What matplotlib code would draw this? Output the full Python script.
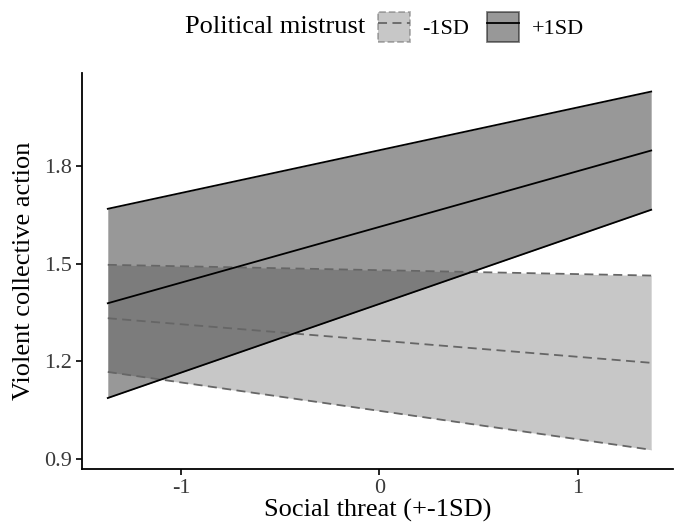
import numpy as np
import matplotlib
matplotlib.use("Agg")
import matplotlib.pyplot as plt
from matplotlib.patches import Patch
from matplotlib.lines import Line2D

plt.rcParams['font.family'] = ['Liberation Serif', 'DejaVu Serif']
plt.rcParams['axes.unicode_minus'] = False

# data
x = [-1.37, 1.37]
groups = ["-1SD", "+1SD"]
low_mean = [1.332, 1.195]
low_upper = [1.496, 1.463]
low_lower = [1.167, 0.928]
high_mean = [1.378, 1.847]
high_upper = [1.668, 2.028]
high_lower = [1.087, 1.665]

x_ticks = [-1, 0, 1]
x_ticklabels = ["-1", "0", "1"]
y_ticks = [0.9, 1.2, 1.5, 1.8]
y_ticklabels = ["0.9", "1.2", "1.5", "1.8"]

fill_low = "#919191"
fill_high = "#333333"
line_low = "#666666"
line_high = "black"
dash = (0, (5, 3))

fig = plt.figure(figsize=(6.75, 5.26), dpi=100)
ax = fig.add_axes([82 / 675, 57 / 526, (673 - 82) / 675, (469 - 73) / 526])

# ribbons
ax.fill_between(x, low_lower, low_upper, color=fill_low, alpha=0.5, lw=0)
ax.fill_between(x, high_lower, high_upper, color=fill_high, alpha=0.5, lw=0)

# lines
for ys in (low_upper, low_mean, low_lower):
    ax.plot(x, ys, color=line_low, lw=1.3, linestyle=dash)
for ys in (high_upper, high_mean, high_lower):
    ax.plot(x, ys, color=line_high, lw=1.3)

ax.set_xlim(-1.5, 1.48)
ax.set_ylim(0.869, 2.085)
ax.set_xticks(x_ticks)
ax.set_xticklabels(x_ticklabels)
ax.set_yticks(y_ticks)
ax.set_yticklabels(y_ticklabels)
ax.tick_params(labelsize=16, labelcolor="#3a3a3a", length=4, width=1.2,
               color="black", direction="out", pad=3)
for s in ["top", "right"]:
    ax.spines[s].set_visible(False)
for s in ["left", "bottom"]:
    ax.spines[s].set_linewidth(1.3)
ax.set_xlabel("Social threat (+-1SD)", fontsize=19, labelpad=1)
ax.set_ylabel("Violent collective action", fontsize=19, labelpad=7)

# legend on top, title to the left
fig.text(365 / 675, 1 - 27 / 526, "Political mistrust", fontsize=19,
         ha="right", va="center")
h_low = (Patch(facecolor=fill_low, alpha=0.5, edgecolor=line_low,
               linestyle="--", lw=1.3),
         Line2D([], [], color=line_low, lw=1.3, linestyle=dash))
h_high = (Patch(facecolor=fill_high, alpha=0.5, edgecolor=line_high, lw=1.3),
          Line2D([], [], color=line_high, lw=1.3))
fig.legend([h_low, h_high], groups, loc="center left",
           bbox_to_anchor=(378 / 675, 1 - 27 / 526), ncol=2, frameon=False,
           fontsize=16, handlelength=1.45, handleheight=1.65,
           handletextpad=0.55, columnspacing=0.8, borderaxespad=0,
           borderpad=0)

fig.savefig("out.png", dpi=100)
